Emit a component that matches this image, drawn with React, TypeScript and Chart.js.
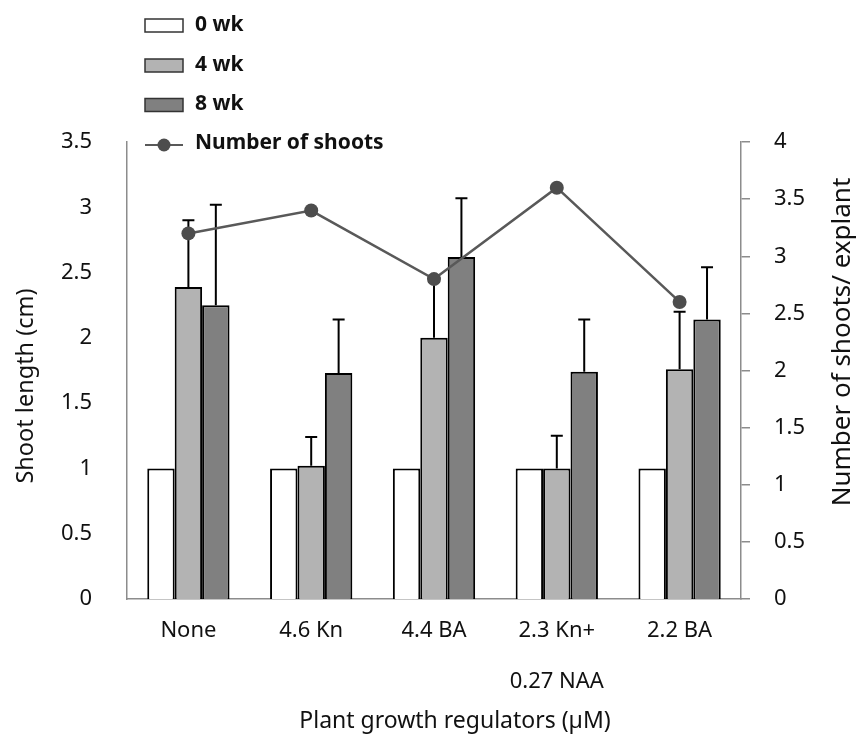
import React, { useEffect, useRef } from "react";
import { Chart, registerables } from "chart.js";

Chart.register(...registerables);

const categories: (string | string[])[] = ["None", "4.6 Kn", "4.4 BA", ["2.3 Kn+", "0.27 NAA"], "2.2 BA"];
const wk0: number[] = [1, 1, 1, 1, 1];
const wk4: number[] = [2.39, 1.02, 2.0, 1.0, 1.76];
const wk8: number[] = [2.25, 1.73, 2.62, 1.74, 2.14];
const wk4Err: number[] = [0.51, 0.22, 0.43, 0.25, 0.44];
const wk8Err: number[] = [0.77, 0.41, 0.45, 0.4, 0.4];
const shoots: number[] = [3.2, 3.4, 2.8, 3.6, 2.6];
const leftTicks: number[] = [0, 0.5, 1, 1.5, 2, 2.5, 3, 3.5];
const rightTicks: number[] = [0, 0.5, 1, 1.5, 2, 2.5, 3, 3.5, 4];

const FONT = "'Noto Sans', 'Open Sans', sans-serif";
const AXIS_GRAY = "#8c8c8c";

const errorBarPlugin = {
  id: "errorBars",
  afterDatasetDraw(chart: any, args: any) {
    const ds = chart.data.datasets[args.index];
    if (!ds.errors) return;
    const meta = args.meta;
    const yScale = chart.scales[ds.yAxisID || "y"];
    const ctx = chart.ctx;
    ctx.save();
    ctx.strokeStyle = "#000";
    ctx.lineWidth = 2;
    meta.data.forEach((el: any, i: number) => {
      const err = ds.errors[i];
      if (!err) return;
      const top = yScale.getPixelForValue(ds.data[i] + err);
      ctx.beginPath();
      ctx.moveTo(el.x, el.y);
      ctx.lineTo(el.x, top);
      ctx.moveTo(el.x - 6, top);
      ctx.lineTo(el.x + 6, top);
      ctx.stroke();
    });
    ctx.restore();
  },
};

const decorPlugin = {
  id: "decor",
  afterDraw(chart: any) {
    const ctx = chart.ctx;
    ctx.save();
    ctx.fillStyle = "#111";
    ctx.textAlign = "center";
    ctx.textBaseline = "middle";
    ctx.font = `23px ${FONT}`;
    ctx.fillText("Plant growth regulators (µM)", 455, 721);
    ctx.font = `23.5px ${FONT}`;
    ctx.save();
    ctx.translate(26, 386);
    ctx.rotate(-Math.PI / 2);
    ctx.fillText("Shoot length (cm)", 0, 0);
    ctx.restore();
    ctx.font = `26px ${FONT}`;
    ctx.save();
    ctx.translate(843, 342);
    ctx.rotate(-Math.PI / 2);
    ctx.fillText("Number of shoots/ explant", 0, 0);
    ctx.restore();

    // legend
    const rows = [25, 65, 104.5, 143];
    ctx.font = `bold 21px ${FONT}`;
    ctx.textAlign = "left";
    chart.data.datasets.forEach((ds: any, i: number) => {
      const cy = rows[i];
      if (ds.type === "line") {
        ctx.strokeStyle = ds.borderColor;
        ctx.lineWidth = 2;
        ctx.beginPath();
        ctx.moveTo(145, cy + 2);
        ctx.lineTo(183, cy + 2);
        ctx.stroke();
        ctx.fillStyle = ds.pointBackgroundColor;
        ctx.beginPath();
        ctx.arc(164, cy + 2, 6.5, 0, Math.PI * 2);
        ctx.fill();
      } else {
        ctx.fillStyle = ds.backgroundColor;
        ctx.fillRect(145, cy - 6, 38, 13);
        ctx.strokeStyle = "#333";
        ctx.lineWidth = 1.5;
        ctx.strokeRect(145, cy - 6, 38, 13);
      }
      ctx.fillStyle = "#111";
      ctx.fillText(ds.label, 195, cy);
    });
    ctx.restore();
  },
};

const fmt = (v: any) => String(Number(v));

export default function App() {
  const canvasRef = useRef<HTMLCanvasElement | null>(null);

  useEffect(() => {
    if (!canvasRef.current) return;
    const barCommon = {
      type: "bar" as const,
      borderColor: "#000",
      borderWidth: 2,
      barPercentage: 1,
      categoryPercentage: 0.67,
      yAxisID: "y",
      order: 1,
    };
    const chart = new Chart(canvasRef.current, {
      type: "bar",
      data: {
        labels: categories,
        datasets: [
          { ...barCommon, label: "0 wk", data: wk0, backgroundColor: "#ffffff" } as any,
          { ...barCommon, label: "4 wk", data: wk4, backgroundColor: "#b3b3b3", errors: wk4Err } as any,
          { ...barCommon, label: "8 wk", data: wk8, backgroundColor: "#808080", errors: wk8Err } as any,
          {
            type: "line",
            label: "Number of shoots",
            data: shoots,
            yAxisID: "y1",
            borderColor: "#595959",
            borderWidth: 2.5,
            pointRadius: 7,
            pointBackgroundColor: "#4d4d4d",
            pointBorderColor: "#4d4d4d",
            pointBorderWidth: 0,
            tension: 0,
            order: 0,
          } as any,
        ],
      },
      options: {
        responsive: false,
        animation: false,
        layout: { padding: { top: 142, left: 0, right: 0, bottom: 0 } },
        plugins: { legend: { display: false }, tooltip: { enabled: false }, title: { display: false } },
        scales: {
          x: {
            grid: { display: false, drawTicks: false },
            border: { display: true, color: AXIS_GRAY, width: 1.5 },
            ticks: {
              color: "#111",
              font: { family: FONT, size: 22, lineHeight: 2.32 },
              padding: 6,
              maxRotation: 0,
              autoSkip: false,
            },
            afterFit: (s: any) => {
              s.height = 141;
            },
          },
          y: {
            position: "left",
            min: 0,
            max: 3.5,
            grid: { display: false, drawTicks: false },
            border: { display: true, color: AXIS_GRAY, width: 1.5 },
            afterBuildTicks: (s: any) => {
              s.ticks = leftTicks.map((v) => ({ value: v }));
            },
            ticks: {
              color: "#111",
              font: { family: FONT, size: 22 },
              padding: 35,
              callback: fmt,
            },
            afterFit: (s: any) => {
              s.width = 127;
            },
          },
          y1: {
            position: "right",
            min: 0,
            max: 4,
            grid: {
              display: true,
              drawOnChartArea: false,
              drawTicks: true,
              tickLength: 9,
              color: AXIS_GRAY,
              lineWidth: 1.5,
            },
            border: { display: true, color: AXIS_GRAY, width: 1.5 },
            afterBuildTicks: (s: any) => {
              s.ticks = rightTicks.map((v) => ({ value: v }));
            },
            ticks: {
              color: "#111",
              font: { family: FONT, size: 22 },
              padding: 24,
              callback: fmt,
            },
            afterFit: (s: any) => {
              s.width = 858 - 741;
            },
          },
        },
      },
      plugins: [errorBarPlugin, decorPlugin],
    });
    return () => chart.destroy();
  }, []);

  return (
    <div style={{ position: "fixed", left: 0, top: 0, width: 858, height: 740, background: "#fff" }}>
      <canvas ref={canvasRef} width={858} height={740} />
    </div>
  );
}
